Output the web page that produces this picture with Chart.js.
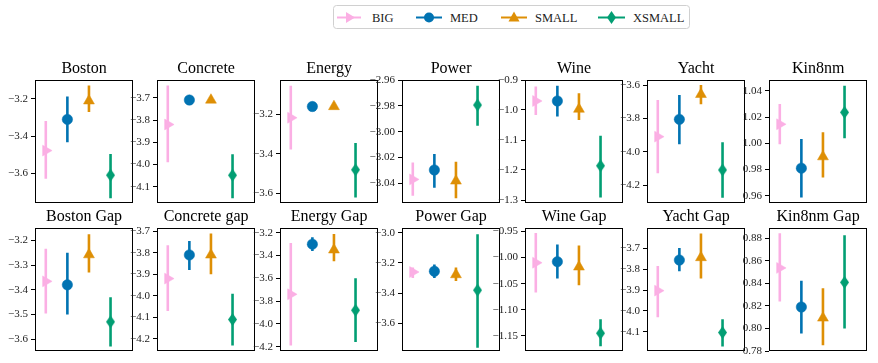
<!DOCTYPE html>
<html><head><meta charset="utf-8">
<script src="https://cdn.jsdelivr.net/npm/chart.js@4.4.1/dist/chart.umd.min.js"></script>
<style>
html,body{margin:0;padding:0;background:#fff;}
body{width:878px;height:363px;position:relative;overflow:hidden;font-family:"Liberation Serif",serif;}
canvas.sub{position:absolute;}
#legend{position:absolute;left:333px;top:5px;}
</style></head><body>
<svg id="legend" width="360" height="25" xmlns="http://www.w3.org/2000/svg"></svg>
<script>
// ---- data ----
const titles = ['Boston','Concrete','Energy','Power','Wine','Yacht','Kin8nm',
                'Boston Gap','Concrete gap','Energy Gap','Power Gap','Wine Gap','Yacht Gap','Kin8nm Gap'];
const seriesNames = ['BIG','MED','SMALL','XSMALL'];

const yMin = [-3.76,-4.173,-3.648,-3.0553,-1.31,-4.308,0.9544, -3.648,-4.256,-4.238,-3.782,-1.179,-4.191,0.78];
const yMax = [-3.098,-3.62,-3.026,-2.96,-0.9,-3.57,1.0484, -3.15,-3.685,-3.158,-2.969,-0.9435,-3.604,0.8891];
const yTicks = [
  [-3.2,-3.4,-3.6],
  [-3.7,-3.8,-3.9,-4.0,-4.1],
  [-3.2,-3.4,-3.6],
  [-2.96,-2.98,-3.00,-3.02,-3.04],
  [-0.9,-1.0,-1.1,-1.2,-1.3],
  [-3.6,-3.8,-4.0,-4.2],
  [1.04,1.02,1.00,0.98,0.96],
  [-3.2,-3.3,-3.4,-3.5,-3.6],
  [-3.7,-3.8,-3.9,-4.0,-4.1,-4.2],
  [-3.2,-3.4,-3.6,-3.8,-4.0,-4.2],
  [-3.0,-3.2,-3.4,-3.6],
  [-0.95,-1.00,-1.05,-1.10,-1.15],
  [-3.7,-3.8,-3.9,-4.0,-4.1],
  [0.88,0.86,0.84,0.82,0.80,0.78]
];
const tickDecimals = [1,1,1,2,1,1,2, 1,1,1,1,2,1,2];

const bigMean  = [-3.478,-3.82,-3.217,-3.037,-0.97,-3.91,1.0146, -3.366,-3.92,-3.74,-3.26,-1.01,-3.903,0.8537];
const bigLow   = [-3.63,-3.99,-3.378,-3.0496,-1.017,-4.13,0.9993, -3.496,-4.07,-4.19,-3.30,-1.067,-4.03,0.824];
const bigHigh  = [-3.318,-3.645,-3.055,-3.024,-0.922,-3.69,1.030, -3.234,-3.765,-3.29,-3.23,-0.953,-3.785,0.8845];

const medMean  = [-3.31,-3.71,-3.16,-3.0297,-0.97,-3.806,0.981, -3.38,-3.81,-3.30,-3.255,-1.008,-3.757,0.819];
const medLow   = [-3.433,-3.71,-3.16,-3.0434,-1.022,-3.956,0.9586, -3.50,-3.88,-3.36,-3.30,-1.04,-3.81,0.7955];
const medHigh  = [-3.187,-3.71,-3.16,-3.0173,-0.919,-3.66,1.0034, -3.25,-3.745,-3.24,-3.21,-0.975,-3.70,0.8423];

const smallMean = [-3.21,-3.71,-3.16,-3.0382,-0.997,-3.656,0.9898, -3.258,-3.81,-3.35,-3.277,-1.018,-3.745,0.8093];
const smallLow  = [-3.27,-3.71,-3.16,-3.0516,-1.033,-3.716,0.9738, -3.33,-3.90,-3.45,-3.32,-1.053,-3.845,0.785];
const smallHigh = [-3.128,-3.71,-3.16,-3.0233,-0.944,-3.60,1.0085, -3.175,-3.71,-3.21,-3.23,-0.977,-3.63,0.8357];

const xsMean = [-3.61,-4.048,-3.48,-2.9794,-1.186,-4.11,1.0237, -3.53,-4.11,-3.88,-3.38,-1.145,-4.103,0.8409];
const xsLow  = [-3.734,-4.152,-3.62,-2.9954,-1.292,-4.276,1.0039, -3.63,-4.23,-4.16,-3.76,-1.17,-4.17,0.80];
const xsHigh = [-3.496,-3.954,-3.345,-2.9644,-1.086,-3.944,1.044, -3.43,-3.99,-3.60,-3.01,-1.118,-4.04,0.8826];

// ---- styles / layout ----
const colors = ['#fbafe4','#0173b2','#de8f05','#029e73'];
const FONT = '"Liberation Serif", "DejaVu Serif", serif';
const boxLeft = [35,157,280,402,525,647,769];
const rowTop = [80,228];
const BOX_W = 103, BOX_H = 123, AXW = 34, TITLE_H = 19, PAD_B = 10, PAD_R = 2;

function makeDiamond(color, w, h){
  const c = document.createElement('canvas');
  c.width = w; c.height = h;
  const g = c.getContext('2d');
  g.fillStyle = color;
  g.beginPath();
  g.moveTo(w/2, 0); g.lineTo(w, h/2); g.lineTo(w/2, h); g.lineTo(0, h/2); g.closePath();
  g.fill();
  return c;
}
const diamond = makeDiamond(colors[3], 9, 13);

const markerStyles = [
  {pointStyle:'triangle', radius:6.3, rotation:90},
  {pointStyle:'circle', radius:5.2, rotation:0},
  {pointStyle:'triangle', radius:6.3, rotation:0},
  {pointStyle:diamond, radius:6, rotation:0}
];

const framePlugin = {
  id:'frame',
  afterDatasetsDraw(chart){
    const {ctx, chartArea:a} = chart;
    ctx.save();
    ctx.strokeStyle = '#000'; ctx.lineWidth = 1;
    ctx.strokeRect(Math.round(a.left)+0.5, Math.round(a.top)+0.5,
                   Math.round(a.right-a.left)-1, Math.round(a.bottom-a.top)-1);
    ctx.restore();
  }
};

const allMeans = [bigMean, medMean, smallMean, xsMean];
const allLows  = [bigLow, medLow, smallLow, xsLow];
const allHighs = [bigHigh, medHigh, smallHigh, xsHigh];

for (let k = 0; k < titles.length; k++){
  const row = k < 7 ? 0 : 1, col = k % 7;
  const cv = document.createElement('canvas');
  cv.className = 'sub';
  const W = AXW + BOX_W + PAD_R, H = TITLE_H + BOX_H + PAD_B;
  cv.width = W; cv.height = H;
  cv.style.left = (boxLeft[col] - AXW) + 'px';
  cv.style.top = (rowTop[row] - TITLE_H) + 'px';
  cv.style.width = W + 'px'; cv.style.height = H + 'px';
  document.body.appendChild(cv);

  const datasets = [];
  for (let s = 0; s < 4; s++){
    datasets.push({
      type:'line', label: seriesNames[s] + ' err',
      data:[{x:s, y:allLows[s][k]}, {x:s, y:allHighs[s][k]}],
      borderColor: colors[s], borderWidth: 2.6, pointRadius: 0, fill:false, order: 2
    });
  }
  for (let s = 0; s < 4; s++){
    const m = markerStyles[s];
    datasets.push({
      type:'scatter', label: seriesNames[s],
      data:[{x:s, y:allMeans[s][k]}],
      pointStyle: m.pointStyle, pointRadius: m.radius, pointRotation: m.rotation,
      backgroundColor: colors[s], borderColor: colors[s], pointBorderWidth: 0.5, order: 1
    });
  }
  const ticks = yTicks[k], dec = tickDecimals[k];
  new Chart(cv, {
    data:{datasets},
    options:{
      responsive:false, animation:false, devicePixelRatio:1,
      layout:{padding:{left:0, right:PAD_R, top:0, bottom:PAD_B}},
      plugins:{
        legend:{display:false}, tooltip:{enabled:false},
        title:{display:true, text:titles[k], fullSize:false, color:'#000',
               font:{family:FONT, size:16, weight:'normal', lineHeight:1},
               padding:{top:0, bottom:3}}
      },
      scales:{
        x:{type:'linear', display:false, min:-0.5, max:4.05},
        y:{type:'linear', min:yMin[k], max:yMax[k],
           afterBuildTicks(sc){ sc.ticks = ticks.map(v => ({value:v})); },
           afterFit(sc){ sc.width = AXW; },
           border:{display:false},
           grid:{display:true, drawOnChartArea:false, drawTicks:true, tickLength:4, color:'#000', lineWidth:1},
           ticks:{autoSkip:false, padding:3, color:'#222',
                  font:{family:FONT, size:11, lineHeight:1},
                  callback:(v) => Number(v).toFixed(dec).replace('-', '\u2212')}
        }
      }
    },
    plugins:[framePlugin]
  });
}

// ---- legend (SVG, real text) ----
(function(){
  const svg = document.getElementById('legend');
  const NS = 'http://www.w3.org/2000/svg';
  const el = (n, a) => { const e = document.createElementNS(NS, n); for (const key in a) e.setAttribute(key, a[key]); svg.appendChild(e); return e; };
  el('rect', {x:0.5, y:0.5, width:356, height:23, rx:3, ry:3, fill:'#fff', stroke:'#d0d0d0', 'stroke-width':1});
  const cy = 12.5;
  const lineX = [[4,28],[83,109],[168,194],[265,292]];
  const textX = [39,117,202,300];
  for (let s = 0; s < 4; s++){
    const [a, b] = lineX[s], mx = (a + b) / 2;
    el('line', {x1:a, y1:cy, x2:b, y2:cy, stroke:colors[s], 'stroke-width':2});
    if (s === 0) el('polygon', {points:`${mx+6},${cy} ${mx-3},${cy-5.5} ${mx-3},${cy+5.5}`, fill:colors[s]});
    if (s === 1) el('circle', {cx:mx, cy:cy, r:5, fill:colors[s]});
    if (s === 2) el('polygon', {points:`${mx},${cy-6} ${mx+5.5},${cy+4} ${mx-5.5},${cy+4}`, fill:colors[s]});
    if (s === 3) el('polygon', {points:`${mx},${cy-6.5} ${mx+4.5},${cy} ${mx},${cy+6.5} ${mx-4.5},${cy}`, fill:colors[s]});
    const t = el('text', {x:textX[s], y:cy+4.3, fill:'#222', 'font-family':'Liberation Serif, serif', 'font-size':12.5});
    t.textContent = seriesNames[s];
  }
})();
</script>
</body></html>
